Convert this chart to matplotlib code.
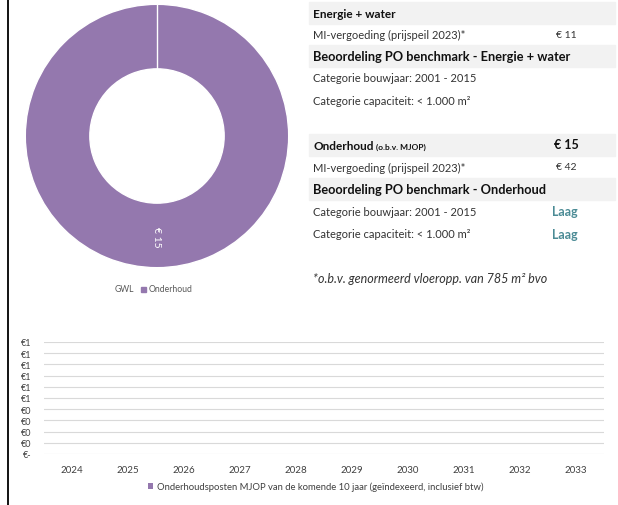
import matplotlib.pyplot as plt
from matplotlib.patches import Rectangle

# -----------------------------
# data
# -----------------------------
donut_labels = ["Onderhoud"]
donut_values = [15]
donut_text = ["€ 15"]

years = ["2024", "2025", "2026", "2027", "2028", "2029", "2030", "2031", "2032", "2033"]
mjop_values = [0, 0, 0, 0, 0, 0, 0, 0, 0, 0]
y_ticks = [0.0, 0.1, 0.2, 0.3, 0.4, 0.5, 0.6, 0.7, 0.8, 0.9, 1.0]

# right panel rows: (text, value, kind)
rows = [
    ("Energie + water", "", "head"),
    ("MI-vergoeding (prijspeil 2023)*", "€ 11", "row"),
    ("Beoordeling PO benchmark - Energie + water", "", "head"),
    ("Categorie bouwjaar: 2001 - 2015", "", "row"),
    ("Categorie capaciteit: < 1.000 m²", "", "row"),
    (None, None, "gap"),
    ("Onderhoud", "€ 15", "head"),
    ("MI-vergoeding (prijspeil 2023)*", "€ 42", "row"),
    ("Beoordeling PO benchmark - Onderhoud", "", "head"),
    ("Categorie bouwjaar: 2001 - 2015", "Laag", "rate"),
    ("Categorie capaciteit: < 1.000 m²", "Laag", "rate"),
]
footnote = "*o.b.v. genormeerd vloeropp. van 785 m² bvo"

purple = "#9478AE"
teal = "#4B8B95"
band = "#F2F2F2"
W, H = 618, 506

plt.rcParams["font.family"] = ["Lato", "DejaVu Sans"]

fig = plt.figure(figsize=(W / 100, H / 100), dpi=100)


def fx(px):
    return px / W


def fy(py):
    return 1 - py / H


# left border line
fig.add_artist(plt.Line2D([fx(8), fx(8)], [0, 1], color="black", lw=1.3))

# -----------------------------
# donut
# -----------------------------
cx, cy, r = 157, 137, 133
ax1 = fig.add_axes([fx(cx - r), fy(cy + r), 2 * r / W, 2 * r / H])
ax1.pie(donut_values, colors=[purple], startangle=90, counterclock=False,
        radius=1, wedgeprops=dict(width=0.49, edgecolor="white", linewidth=1))
ax1.plot([0, 0], [0.51, 1.0], color="white", lw=1)
ax1.text(0, -0.76, donut_text[0], color="white", rotation=270,
         ha="center", va="center", fontsize=7.5)
ax1.set_xlim(-1.01, 1.01)
ax1.set_ylim(-1.01, 1.01)
ax1.set_aspect("equal")
ax1.axis("off")

fig.text(fx(115), fy(290), "GWL", fontsize=6.2, color="#595959", va="center")
fig.add_artist(Rectangle((fx(141), fy(293)), 5 / W, 5 / H, color=purple,
                         transform=fig.transFigure))
fig.text(fx(149), fy(290), donut_labels[0], fontsize=6.2, color="#595959",
         va="center")

# -----------------------------
# right panel
# -----------------------------
renderer = fig.canvas.get_renderer()
row_y = [14, 35, 57, 79, 102, None, 146, 168, 190, 212, 235]
for (txt, val, kind), yy in zip(rows, row_y):
    if kind == "gap":
        continue
    if kind == "head":
        fig.add_artist(Rectangle((fx(309), fy(yy + 11)), (615 - 309) / W, 22 / H,
                                 color=band, transform=fig.transFigure, zorder=0))
        fs = 8.5 if txt == "Energie + water" or txt == "Onderhoud" else 9.2
        t = fig.text(fx(313), fy(yy), txt, fontsize=fs, fontweight="bold",
                     color="#111111", va="center")
        if txt == "Onderhoud":
            x_end = t.get_window_extent(renderer).x1
            fig.text((x_end + 3) / W, fy(yy + 1), "(o.b.v. MJOP)", fontsize=6,
                     fontweight="bold", color="#111111", va="center")
        if val:
            fig.text(fx(554), fy(yy - 1), val, fontsize=9, fontweight="bold",
                     color="#111111", va="center")
    else:
        fig.text(fx(313), fy(yy), txt, fontsize=8, color="#333333", va="center")
        if kind == "rate":
            fig.text(fx(552), fy(yy), val, fontsize=9, fontweight="bold",
                     color=teal, va="center")
        elif val:
            fig.text(fx(556), fy(yy), val, fontsize=7.5, color="#333333",
                     va="center")

fig.text(fx(313), fy(279), footnote, fontsize=9, style="italic",
         color="#333333", va="center")

# -----------------------------
# bar chart
# -----------------------------
ax2 = fig.add_axes([fx(44), fy(455), (604 - 44) / W, (455 - 343) / H])
bars = ax2.bar(years, mjop_values, color=purple, width=0.6,
               label="Onderhoudsposten MJOP van de komende 10 jaar (geïndexeerd, inclusief btw)")
ax2.set_ylim(0, 1)
ax2.set_xlim(-0.5, len(years) - 0.5)
ax2.set_yticks(y_ticks)
ax2.set_yticklabels(["€-" if v == 0 else "€%d" % int(v + 0.5) for v in y_ticks])
ax2.grid(axis="y", color="#D9D9D9", lw=0.8)
ax2.set_axisbelow(True)
for s in ax2.spines.values():
    s.set_visible(False)
ax2.tick_params(length=0, labelcolor="#404040")
ax2.tick_params(axis="x", pad=8, labelsize=7)
ax2.tick_params(axis="y", pad=9, labelsize=6.5)
ax2.legend(loc="center", bbox_to_anchor=(0.485, -0.29), frameon=False,
           fontsize=6.8, handlelength=0.6, handleheight=0.6, handletextpad=0.4,
           labelcolor="#404040")

fig.savefig("out.png", dpi=100)
